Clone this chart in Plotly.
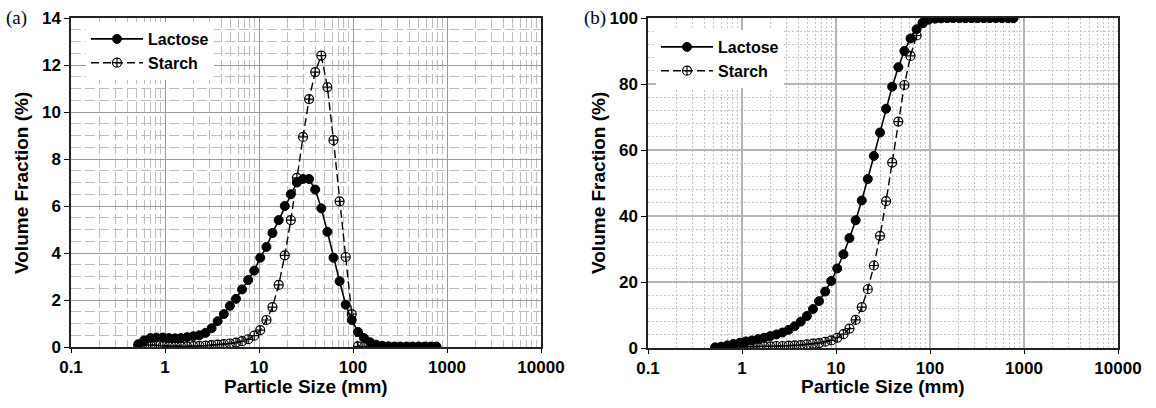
import plotly.graph_objects as go

# Particle size bins (mm)
size = [0.52, 0.60, 0.70, 0.81, 0.95, 1.10, 1.28, 1.48, 1.72, 2.00,
        2.32, 2.70, 3.13, 3.63, 4.22, 4.90, 5.69, 6.60, 7.67, 8.90,
        10.3, 12.0, 13.9, 16.2, 18.8, 21.8, 25.3, 29.4, 34.1, 39.6,
        46.0, 53.4, 62.0, 72.0, 83.6, 97.0, 113, 131, 152, 176,
        205, 238, 276, 320, 372, 432, 501, 582, 676, 770]

# (a) volume fraction (%)
lactose_freq = [0.12, 0.28, 0.38, 0.40, 0.40, 0.38, 0.37, 0.38, 0.42, 0.46,
                0.50, 0.60, 0.80, 1.10, 1.40, 1.75, 2.05, 2.45, 2.85, 3.25,
                3.80, 4.26, 4.85, 5.40, 6.00, 6.50, 7.00, 7.15, 7.15, 6.70,
                5.90, 4.90, 3.80, 2.80, 1.80, 1.15, 0.64, 0.38, 0.20, 0.10,
                0.05, 0.03, 0.02, 0.02, 0.02, 0.02, 0.02, 0.02, 0.02, 0.02]
starch_freq = [0.06, 0.08, 0.08, 0.07, 0.05, 0.04, 0.04, 0.03, 0.03, 0.04,
               0.05, 0.06, 0.08, 0.10, 0.12, 0.15, 0.19, 0.25, 0.33, 0.48,
               0.72, 1.15, 1.70, 2.64, 3.90, 5.40, 7.20, 8.94, 10.55, 11.70,
               12.40, 11.06, 8.80, 6.20, 3.83, 1.40, 0.03, 0.0, 0.0, 0.0,
               0.0, 0.0, 0.0, 0.0, 0.0, 0.0, 0.0, 0.0, 0.0, 0.0]

# (b) cumulative volume fraction (%)
lactose_cum = [0.1, 0.4, 0.8, 1.2, 1.6, 2.0, 2.3, 2.7, 3.1, 3.6,
               4.1, 4.7, 5.5, 6.6, 8.0, 9.7, 11.8, 14.2, 17.1, 20.3,
               24.1, 28.4, 33.3, 38.7, 44.7, 51.2, 58.2, 65.3, 72.5, 79.2,
               85.1, 90.0, 93.8, 96.6, 98.4, 99.5, 99.8, 99.9, 100, 100,
               100, 100, 100, 100, 100, 100, 100, 100, 100, 100]
starch_cum = [0.1, 0.1, 0.2, 0.3, 0.3, 0.4, 0.4, 0.5, 0.5, 0.5,
              0.6, 0.6, 0.7, 0.8, 0.9, 1.1, 1.3, 1.5, 1.9, 2.3,
              3.1, 4.2, 5.9, 8.5, 12.4, 17.8, 25.0, 34.0, 44.5, 56.2,
              68.6, 79.7, 88.5, 94.7, 98.5, 99.9, 100, 100, 100, 100,
              100, 100, 100, 100, 100, 100, 100, 100, 100, 100]

x_ticks = [0.1, 1, 10, 100, 1000, 10000]
x_tick_text = ["0.1", "1", "10", "100", "1000", "10000"]

FONT = "Liberation Sans"
W, H = 1156, 408


def px(v, total):
    return v / total


lac_marker = dict(symbol="circle", size=9, color="black", line=dict(color="black", width=1))
sta_marker = dict(symbol="circle-cross-open", size=9, color="black", line=dict(color="black", width=1.2))

fig = go.Figure()
fig.add_trace(go.Scatter(x=size, y=lactose_freq, name="Lactose", mode="lines+markers",
                         line=dict(color="black", width=1.6), marker=lac_marker,
                         xaxis="x", yaxis="y", legend="legend"))
fig.add_trace(go.Scatter(x=size, y=starch_freq, name="Starch", mode="lines+markers",
                         line=dict(color="black", width=1.4, dash="8px,4px"), marker=sta_marker,
                         xaxis="x", yaxis="y", legend="legend"))
fig.add_trace(go.Scatter(x=size, y=lactose_cum, name="Lactose", mode="lines+markers",
                         line=dict(color="black", width=1.6), marker=lac_marker,
                         xaxis="x2", yaxis="y2", legend="legend2"))
fig.add_trace(go.Scatter(x=size, y=starch_cum, name="Starch", mode="lines+markers",
                         line=dict(color="black", width=1.4, dash="8px,4px"), marker=sta_marker,
                         xaxis="x2", yaxis="y2", legend="legend2"))

tickfont = dict(family=FONT, size=17, color="black", weight="bold")

common_x = dict(type="log", range=[-1, 4], tickvals=x_ticks, ticktext=x_tick_text,
                ticks="outside", ticklen=4, tickcolor="black", tickwidth=1.2,
                showline=True, linecolor="#222", linewidth=1.5, mirror=True,
                tickfont=tickfont, zeroline=False, automargin=False)
common_y = dict(ticks="outside", ticklen=5, tickcolor="black", tickwidth=1.2,
                showline=True, linecolor="#222", linewidth=1.5, mirror=True,
                tickfont=tickfont, zeroline=False, automargin=False)

legend_font = dict(family=FONT, size=16, color="black", weight="bold")

fig.update_layout(
    width=W, height=H, autosize=False,
    margin=dict(l=0, r=0, t=0, b=0, pad=0, autoexpand=False),
    paper_bgcolor="white", plot_bgcolor="white",
    showlegend=True,
    xaxis=dict(domain=[px(71, W), px(541, W)], anchor="y",
               showgrid=True, gridcolor="#9a9a9a", gridwidth=1.3,
               minor=dict(dtick="D1", showgrid=True, gridcolor="#bdbdbd", gridwidth=1.4,
                          griddash="10px,4px"),
               **common_x),
    yaxis=dict(domain=[1 - 347 / H, 1 - 18 / H], anchor="x", range=[0, 14], dtick=2,
               showgrid=True, gridcolor="#9a9a9a", gridwidth=1.3,
               minor=dict(dtick=0.5, showgrid=True, gridcolor="#bdbdbd", gridwidth=1.4,
                          griddash="10px,4px"),
               **common_y),
    xaxis2=dict(domain=[px(648, W), px(1118, W)], anchor="y2",
                showgrid=True, gridcolor="#b4b4b4", gridwidth=1.5,
                minor=dict(dtick="D1", showgrid=True, gridcolor="#c4c4c4", gridwidth=1,
                           griddash="2px,2px"),
                **common_x),
    yaxis2=dict(domain=[1 - 348 / H, 1 - 18 / H], anchor="x2", range=[0, 100], dtick=20,
                showgrid=True, gridcolor="#b4b4b4", gridwidth=1.5,
                minor=dict(dtick=4, showgrid=True, gridcolor="#c4c4c4", gridwidth=1,
                           griddash="2px,2px"),
                **common_y),
    legend=dict(x=px(86, W), y=1 - 22 / H, xanchor="left", yanchor="top",
                bgcolor="white", borderwidth=0, tracegroupgap=0,
                font=legend_font, itemwidth=52),
    legend2=dict(x=px(656, W), y=1 - 30 / H, xanchor="left", yanchor="top",
                 bgcolor="white", borderwidth=0, tracegroupgap=0,
                 font=legend_font, itemwidth=52),
    annotations=[
        dict(text="(a)", x=px(4, W), y=1 - 18 / H, xref="paper", yref="paper",
             xanchor="left", yanchor="middle", showarrow=False,
             font=dict(family="Liberation Serif", size=19, color="black")),
        dict(text="(b)", x=px(582, W), y=1 - 18 / H, xref="paper", yref="paper",
             xanchor="left", yanchor="middle", showarrow=False,
             font=dict(family="Liberation Serif", size=19, color="black")),
        dict(text="Volume Fraction (%)", x=px(22, W), y=1 - 183 / H, xref="paper", yref="paper",
             textangle=-90, showarrow=False, xanchor="center", yanchor="middle",
             font=dict(family=FONT, size=19, color="black", weight="bold")),
        dict(text="Volume Fraction (%)", x=px(599, W), y=1 - 183 / H, xref="paper", yref="paper",
             textangle=-90, showarrow=False, xanchor="center", yanchor="middle",
             font=dict(family=FONT, size=19, color="black", weight="bold")),
        dict(text="Particle Size (mm)", x=px(306, W), y=1 - 386 / H, xref="paper", yref="paper",
             showarrow=False, xanchor="center", yanchor="middle",
             font=dict(family=FONT, size=19, color="black", weight="bold")),
        dict(text="Particle Size (mm)", x=px(883, W), y=1 - 386 / H, xref="paper", yref="paper",
             showarrow=False, xanchor="center", yanchor="middle",
             font=dict(family=FONT, size=19, color="black", weight="bold")),
    ],
)

fig.write_html("out.html")
